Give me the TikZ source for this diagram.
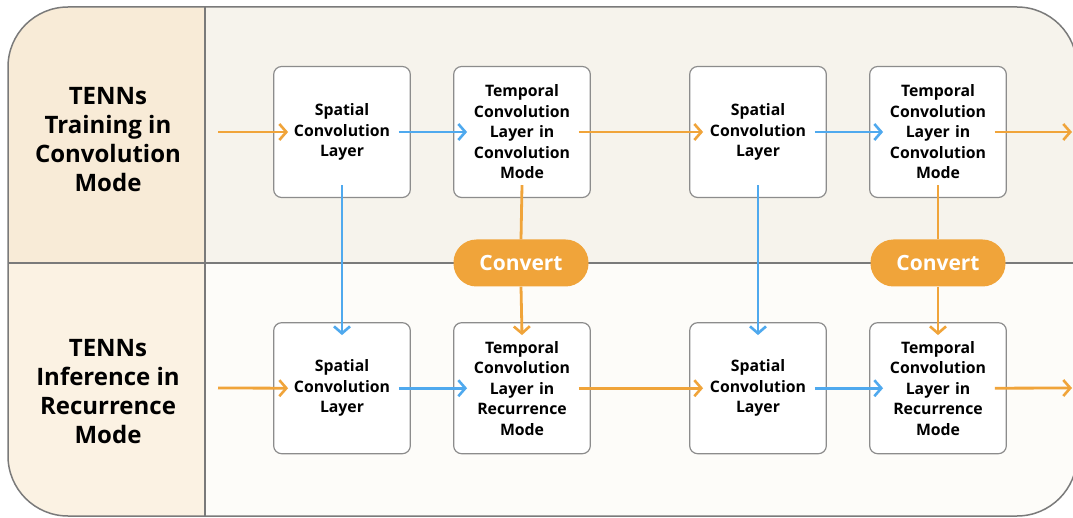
\documentclass[tikz,border=0pt]{standalone}
\usepackage{fontspec}
\setmainfont{Open Sans}
\usetikzlibrary{positioning,arrows.meta}

\definecolor{tennorange}{HTML}{F0A43A}
\definecolor{tennblue}{HTML}{4FA9EE}
\definecolor{boxgray}{HTML}{8C8C8C}
\definecolor{framegray}{HTML}{7A7A7A}
\definecolor{headtop}{HTML}{F8EBD7}
\definecolor{headbot}{HTML}{FBF2E3}
\definecolor{paneltop}{HTML}{F6F3EC}
\definecolor{panelbot}{HTML}{FDFCF9}

\tikzset{
  layer/.style={draw=boxgray, line width=1.2pt, fill=white, rounded corners=8pt,
    minimum width=135pt, minimum height=131pt, text width=130pt, align=center,
    font=\bfseries\fontsize{15.8}{20.5}\selectfont},
  convert/.style={fill=tennorange, rounded corners=23pt, minimum width=135pt,
    minimum height=47pt, text=white, font=\bfseries\fontsize{21}{24}\selectfont},
  rowlabel/.style={align=center, font=\bfseries\fontsize{24}{29}\selectfont},
  flowo/.style={draw=tennorange, line width=2.8pt, -{Straight Barb[length=7pt,width=16pt,line width=2.6pt]}},
  flowb/.style={draw=tennblue, line width=2.8pt, -{Straight Barb[length=7pt,width=16pt,line width=2.6pt]}}
}

\begin{document}
\begin{tikzpicture}[x=1pt,y=-1pt]
\useasboundingbox (0,0) rectangle (1073,518);

% background panels
\begin{scope}
  \clip[rounded corners=60pt] (8,7) rectangle (1077,516);
  \fill[headtop] (8,7) rectangle (205,263);
  \fill[headbot] (8,263) rectangle (205,516);
  \fill[paneltop] (205,7) rectangle (1077,263);
  \fill[panelbot] (205,263) rectangle (1077,516);
  \draw[framegray, line width=1.3pt] (8,263) -- (1077,263);
  \draw[framegray, line width=1.3pt] (205,7) -- (205,516);
\end{scope}
\draw[framegray, line width=1.5pt, rounded corners=60pt] (8,7) rectangle (1077,516);

\node[rowlabel] (train) at (108,140) {TENNs\\Training in\\Convolution\\Mode};
\node[rowlabel] (infer) at (108,392) {TENNs\\Inference in\\Recurrence\\Mode};

% training row
\node[layer] (sp1) at (342,132) {Spatial\\Convolution\\Layer};
\node[layer] (tc1) at (522,132) {Temporal\\Convolution\\Layer in\\Convolution\\Mode};
\node[layer] (sp2) at (758,132) {Spatial\\Convolution\\Layer};
\node[layer] (tc2) at (938,132) {Temporal\\Convolution\\Layer in\\Convolution\\Mode};

% inference row
\node[layer, below=124pt of sp1] (rsp1) {Spatial\\Convolution\\Layer};
\node[layer, below=124pt of tc1] (rtc1) {Temporal\\Convolution\\Layer in\\Recurrence\\Mode};
\node[layer, below=124pt of sp2] (rsp2) {Spatial\\Convolution\\Layer};
\node[layer, below=124pt of tc2] (rtc2) {Temporal\\Convolution\\Layer in\\Recurrence\\Mode};

\node[convert] (cv1) at (521,263) {Convert};
\node[convert] (cv2) at (938,263) {Convert};

\coordinate (in1) at (218,132);
\coordinate (in2) at (218,388);
\coordinate (out1) at (1072,132);
\coordinate (out2) at (1072,388);

% horizontal flow
\foreach \a/\b in {sp1/tc1, sp2/tc2, rsp1/rtc1, rsp2/rtc2}
  \draw[flowb] ([xshift=-12pt]\a.east) -- ([xshift=14pt]\b.west);
\foreach \a/\b in {tc1/sp2, rtc1/rsp2}
  \draw[flowo] ([xshift=-12pt]\a.east) -- ([xshift=14pt]\b.west);
\draw[flowo] (in1) -- ([xshift=15pt]sp1.west);
\draw[flowo] (in2) -- ([xshift=15pt]rsp1.west);
\draw[flowo] ([xshift=-12pt]tc2.east) -- (out1);
\draw[flowo] ([xshift=-12pt]rtc2.east) -- (out2);

% weights carried over
\foreach \a/\b in {sp1/rsp1, sp2/rsp2}
  \draw[flowb] ([yshift=13pt]\a.south) -- ([yshift=-13pt]\b.north);
\foreach \a/\c/\b in {tc1/cv1/rtc1, tc2/cv2/rtc2} {
  \draw[tennorange, line width=2.8pt] ([yshift=13pt]\a.south) -- (\c.north);
  \draw[flowo] (\c.south) -- ([yshift=-13pt]\b.north);
}
\end{tikzpicture}
\end{document}
